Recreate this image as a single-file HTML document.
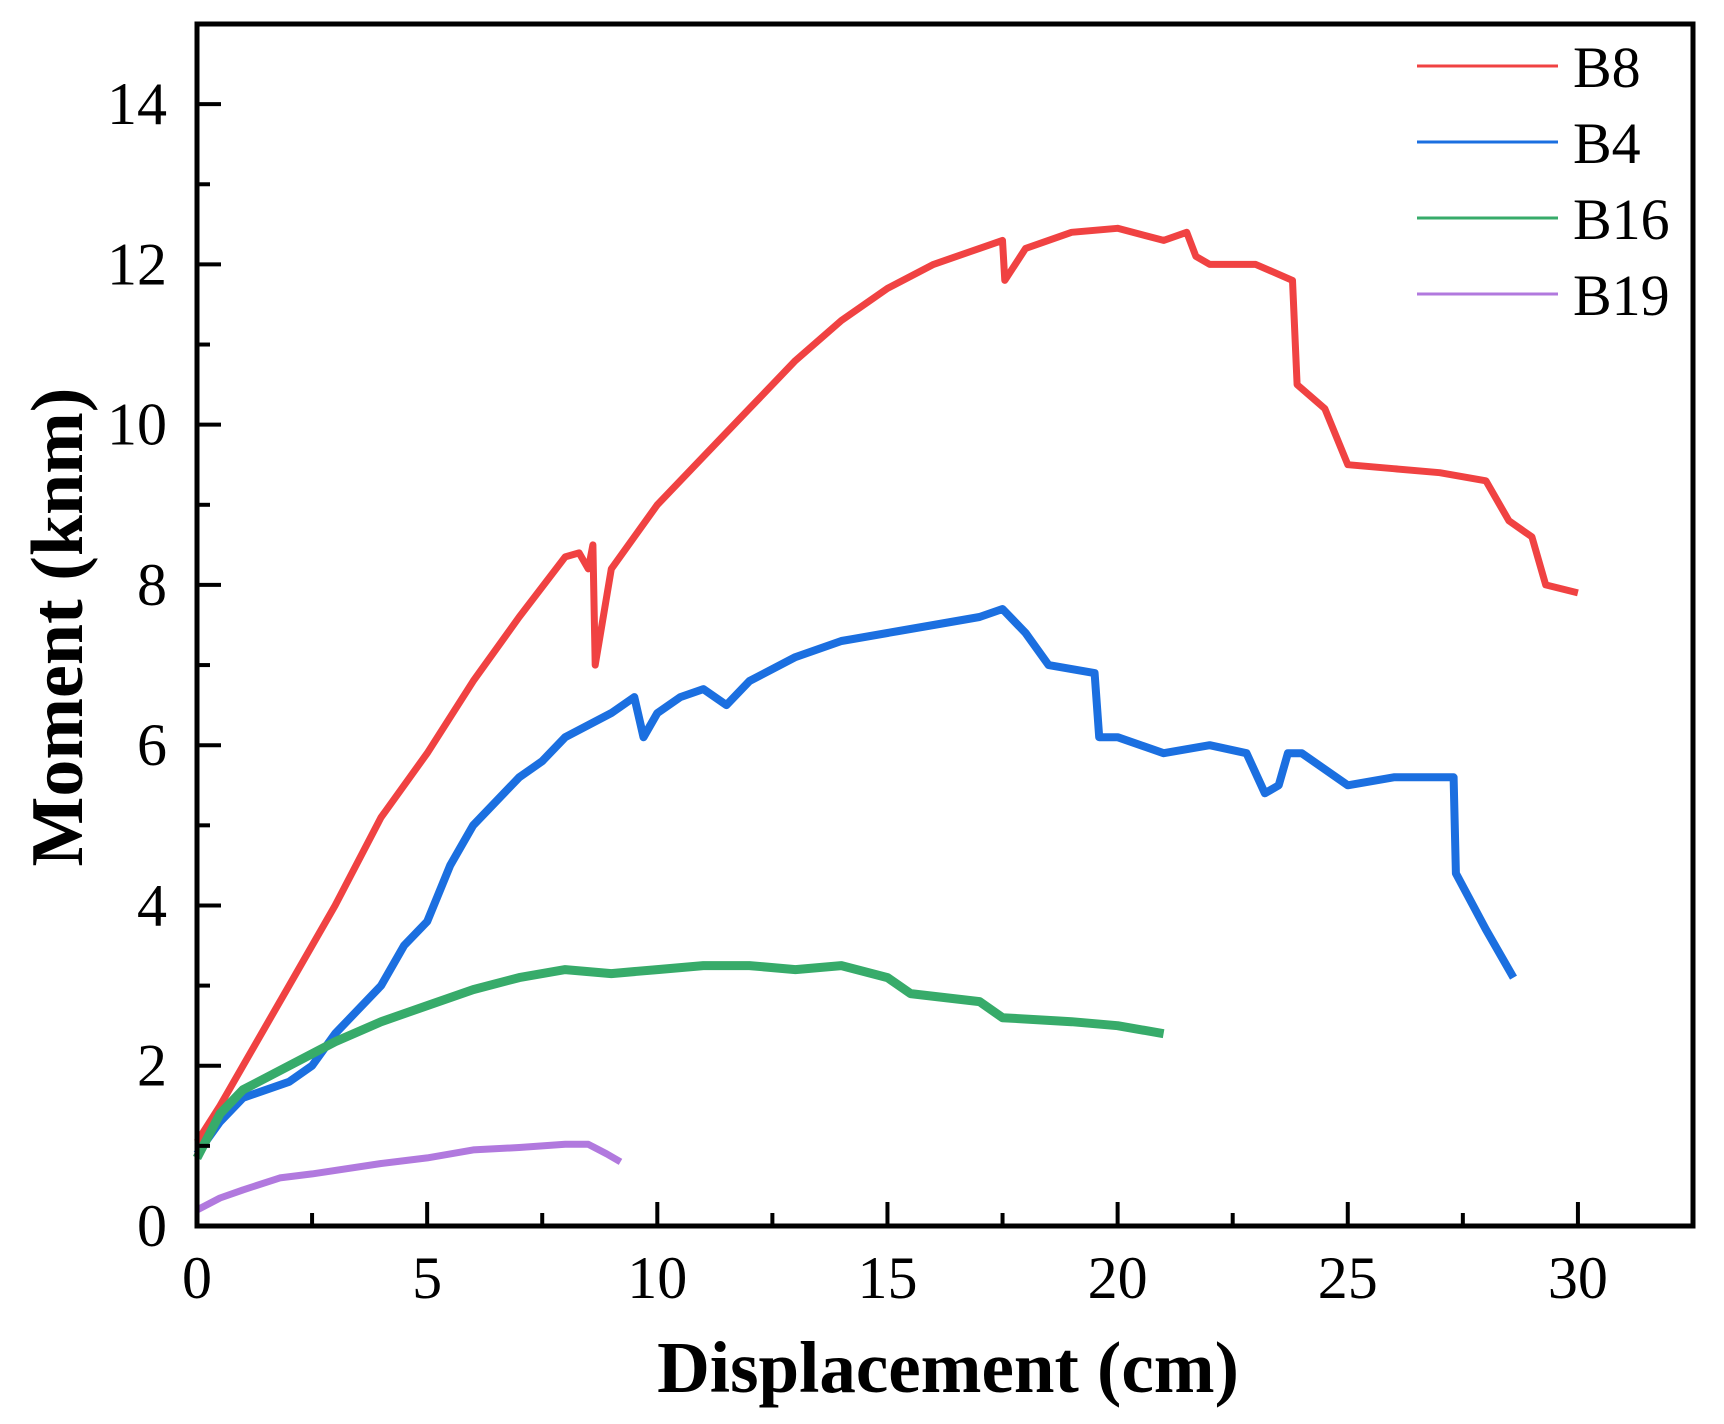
<!DOCTYPE html>
<html><head><meta charset="utf-8"><style>
html,body{margin:0;padding:0;background:#fff}
svg text{font-family:"Liberation Serif",serif;fill:#000}
</style></head><body>
<svg id="chart" width="1724" height="1419" viewBox="0 0 1724 1419" xmlns="http://www.w3.org/2000/svg">
<g id="series"></g>
<g id="axes"></g>
<g id="legend"></g>
<text x="948" y="1392" font-size="73" font-weight="bold" text-anchor="middle">Displacement (cm)</text>
<text transform="translate(82,627) rotate(-90)" font-size="74" font-weight="bold" text-anchor="middle">Moment (knm)</text>
</svg>
<script>
const seriesNames = ["B8","B4","B16","B19"];
const seriesColors = ["#f04242","#1b6fe0","#37ab6a","#b179de"];
const b8X = [0,0.5,1,2,3,4,5,6,7,8,8.3,8.5,8.6,8.65,9,10,11,12,13,14,15,16,17,17.5,17.55,18,19,20,21,21.5,21.7,22,23,23.8,23.9,24.5,25,26,27,28,28.5,29,29.3,30];
const b8Y = [1.05,1.5,2.0,3.0,4.0,5.1,5.9,6.8,7.6,8.35,8.4,8.2,8.5,7.0,8.2,9.0,9.6,10.2,10.8,11.3,11.7,12.0,12.2,12.3,11.8,12.2,12.4,12.45,12.3,12.4,12.1,12.0,12.0,11.8,10.5,10.2,9.5,9.45,9.4,9.3,8.8,8.6,8.0,7.9];
const b4X = [0,0.5,1,2,2.5,3,4,4.5,5,5.5,6,7,7.5,8,9,9.5,9.7,10,10.5,11,11.5,12,13,14,15,16,17,17.5,18,18.5,19.5,19.6,20,21,22,22.8,23.2,23.5,23.7,24,25,26,27,27.3,27.35,28,28.6];
const b4Y = [0.9,1.3,1.6,1.8,2.0,2.4,3.0,3.5,3.8,4.5,5.0,5.6,5.8,6.1,6.4,6.6,6.1,6.4,6.6,6.7,6.5,6.8,7.1,7.3,7.4,7.5,7.6,7.7,7.4,7.0,6.9,6.1,6.1,5.9,6.0,5.9,5.4,5.5,5.9,5.9,5.5,5.6,5.6,5.6,4.4,3.7,3.1];
const b16X = [0,0.5,1,2,3,4,5,6,7,8,9,10,11,12,13,14,15,15.5,17,17.5,19,20,21];
const b16Y = [0.85,1.4,1.7,2.0,2.3,2.55,2.75,2.95,3.1,3.2,3.15,3.2,3.25,3.25,3.2,3.25,3.1,2.9,2.8,2.6,2.55,2.5,2.4];
const b19X = [0,0.5,1,1.8,2.5,4,5,6,7,8,8.5,8.9,9.2];
const b19Y = [0.2,0.35,0.45,0.6,0.65,0.78,0.85,0.95,0.98,1.02,1.02,0.9,0.8];
const xTicks = [0,5,10,15,20,25,30];
const yTicks = [0,2,4,6,8,10,12,14];

const NS="http://www.w3.org/2000/svg";
const L=197,R=1693,T=24,B=1226,XMAX=32.5,YMAX=15;
function sx(v){return L+(R-L)*v/XMAX;}
function sy(v){return B-(B-T)*v/YMAX;}
function mk(tag,parent){const e=document.createElementNS(NS,tag);parent.appendChild(e);return e;}

const sg=document.getElementById('series');
const allX=[b8X,b4X,b16X,b19X], allY=[b8Y,b4Y,b16Y,b19Y];
const widths=[7,8,9,7];
for(let s=0;s<4;s++){
  const p=mk('polyline',sg);
  
  
  p.setAttribute('points',allX[s].map((x,i)=>sx(x).toFixed(1)+','+sy(allY[s][i]).toFixed(1)).join(' '));
  p.setAttribute('fill','none');p.setAttribute('stroke',seriesColors[s]);
  p.setAttribute('stroke-width',widths[s]);p.setAttribute('stroke-linejoin','round');
}

const ag=document.getElementById('axes');
const frame=mk('rect',ag);


frame.setAttribute('x',L);frame.setAttribute('y',T);frame.setAttribute('width',R-L);frame.setAttribute('height',B-T);
frame.setAttribute('fill','none');frame.setAttribute('stroke','#000');frame.setAttribute('stroke-width',5);
for(let v=0;v<=XMAX;v+=2.5){
  const major=v%5===0;const t=mk('line',ag);
  
  
  t.setAttribute('x1',sx(v));t.setAttribute('x2',sx(v));t.setAttribute('y1',B);t.setAttribute('y2',B-(major?24:13));
  t.setAttribute('stroke','#000');t.setAttribute('stroke-width',4);
}
for(let v=0;v<=YMAX;v+=1){
  const major=v%2===0;const t=mk('line',ag);
  
  
  t.setAttribute('y1',sy(v));t.setAttribute('y2',sy(v));t.setAttribute('x1',L);t.setAttribute('x2',L+(major?24:13));
  t.setAttribute('stroke','#000');t.setAttribute('stroke-width',4);
}
xTicks.forEach(v=>{const t=mk('text',ag);
  
  
  t.setAttribute('x',sx(v));t.setAttribute('y',B+72);t.setAttribute('font-size','60');t.setAttribute('text-anchor','middle');t.textContent=v;});
yTicks.forEach(v=>{const t=mk('text',ag);
  
  
  t.setAttribute('x',L-30);t.setAttribute('y',sy(v)+20);t.setAttribute('font-size','60');t.setAttribute('text-anchor','end');t.textContent=v;});

const lg=document.getElementById('legend');
const ly=[66,142,218,294];
for(let s=0;s<4;s++){
  const l=mk('line',lg);
  
  
  l.setAttribute('x1',1417);l.setAttribute('x2',1558);l.setAttribute('y1',ly[s]);l.setAttribute('y2',ly[s]);
  l.setAttribute('stroke',seriesColors[s]);l.setAttribute('stroke-width',3);
  const t=mk('text',lg);
  
  
  t.setAttribute('x',1573);t.setAttribute('y',ly[s]+21);t.setAttribute('font-size','58');t.textContent=seriesNames[s];
}
</script>
</body></html>
